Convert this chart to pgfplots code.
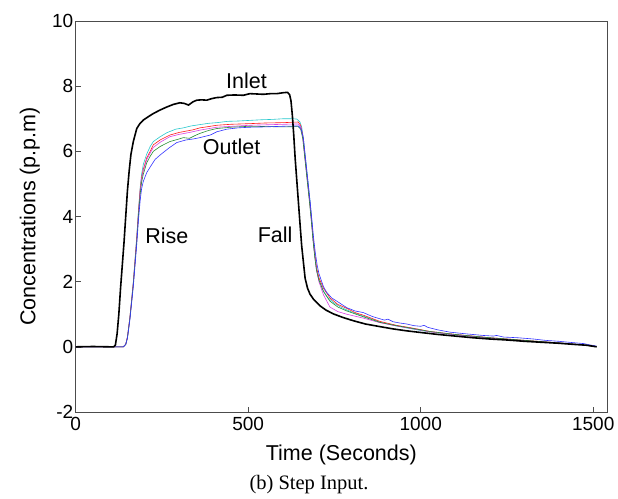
\documentclass[border=0pt]{standalone}
\usepackage{fontspec}
\setmainfont{Liberation Sans}
\newfontfamily\capfont{Liberation Serif}
\usepackage{pgfplots}
\pgfplotsset{compat=1.18}
\definecolor{mcyan}{rgb}{0.15,0.78,0.8}
\definecolor{mred}{rgb}{1,0.1,0.1}
\definecolor{mmag}{rgb}{0.85,0.25,0.9}
\definecolor{mgreen}{rgb}{0.15,0.55,0.2}
\definecolor{mblue}{rgb}{0.2,0.2,1}
\begin{document}
\begin{tikzpicture}
\begin{axis}[
  at={(75.7bp,87bp)}, anchor=south west,
  scale only axis, width=531.3bp, height=391bp,
  xmin=0, xmax=1540, ymin=-2, ymax=10,
  xtick={0,500,1000,1500}, ytick={-2,0,2,4,6,8,10},
  tick align=inside, major tick length=5bp,
  xtick pos=bottom, ytick pos=left,
  axis line style={black!70, line width=0.6bp},
  tick style={black!70, line width=0.6bp},
  /pgf/number format/assume math mode=true,
  /pgf/number format/1000 sep={},
  ticklabel style={font=\fontsize{19bp}{22bp}\selectfont},
  xticklabel style={yshift=-2bp},
  yticklabel style={xshift=1bp},
  every axis x label/.style={at={(rel axis cs:0.5,0)}, yshift=-43bp, anchor=center, font=\fontsize{21.5bp}{24bp}\selectfont},
  every axis y label/.style={at={(rel axis cs:0,0.5)}, xshift=-46bp, rotate=90, anchor=center, font=\fontsize{21.5bp}{24bp}\selectfont},
  xlabel={Time (Seconds)},
  ylabel={Concentrations (p.p.m)},
  clip=true,
]
% Outlets
\addplot[mcyan, line width=0.6bp] coordinates {(0,0) (100,0) (138,0) (145,0.08) (150,0.3) (157,0.9) (162,1.45) (167,2.0) (172,2.7) (177,3.4) (182,4.2) (187,4.9) (191,5.3) (196,5.6) (206,5.92) (216,6.15) (225,6.3) (245,6.45) (264,6.57) (290,6.68) (312,6.72) (335,6.78) (360,6.82) (385,6.86) (409,6.88) (440,6.92) (470,6.93) (505,6.95) (540,6.97) (570,6.98) (602,7.0) (630,7.0) (641,6.99) (650,6.9) (655,6.75) (660,6.4) (665,5.9) (670,5.4) (675,4.9) (680,4.4) (685,3.8) (689,3.2) (694,2.7) (698,2.35) (705,2.05) (718,1.72) (730,1.52) (747,1.36) (765,1.24) (786,1.13) (810,1.03) (834,0.94) (860,0.85) (882,0.76) (920,0.66) (960,0.58) (1000,0.5) (1050,0.43) (1100,0.37) (1150,0.32) (1200,0.27) (1250,0.23) (1300,0.19) (1350,0.15) (1400,0.12) (1450,0.08) (1480,0.05) (1510,0.01)};
\addplot[mred, line width=0.6bp] coordinates {(0,0) (100,0) (138,0) (145,0.08) (150,0.3) (157,0.9) (162,1.42) (167,1.97) (172,2.65) (177,3.35) (182,4.15) (187,4.85) (191,5.2) (196,5.45) (206,5.8) (216,6.0) (225,6.2) (245,6.35) (273,6.5) (300,6.58) (320,6.62) (340,6.66) (360,6.72) (385,6.76) (409,6.8) (450,6.83) (505,6.85) (550,6.87) (602,6.88) (645,6.9) (652,6.8) (658,6.5) (663,6.0) (668,5.5) (673,5.0) (678,4.5) (683,3.95) (688,3.35) (693,2.85) (698,2.45) (705,2.12) (718,1.8) (737,1.5) (760,1.3) (786,1.18) (810,1.05) (834,0.97) (882,0.78) (930,0.66) (979,0.57) (1027,0.47) (1100,0.38) (1200,0.28) (1300,0.2) (1400,0.12) (1460,0.07) (1510,0.01)};
\addplot[mmag, line width=0.6bp] coordinates {(0,0) (100,0) (138,0) (145,0.08) (150,0.3) (157,0.88) (162,1.4) (167,1.95) (172,2.6) (177,3.3) (182,4.1) (187,4.8) (191,5.15) (196,5.4) (206,5.75) (216,5.95) (225,6.12) (245,6.28) (273,6.45) (300,6.52) (330,6.58) (360,6.65) (409,6.74) (505,6.8) (602,6.83) (645,6.84) (652,6.75) (658,6.45) (663,5.95) (668,5.45) (673,4.95) (678,4.45) (683,3.9) (688,3.3) (693,2.8) (698,2.35) (705,2.0) (718,1.6) (737,1.22) (760,1.08) (786,1.0) (834,0.88) (882,0.74) (930,0.64) (979,0.55) (1027,0.46) (1100,0.37) (1200,0.27) (1300,0.19) (1400,0.12) (1460,0.07) (1510,0.01)};
\addplot[mgreen, line width=0.6bp] coordinates {(0,0) (100,0) (138,0) (145,0.07) (150,0.28) (157,0.86) (162,1.38) (167,1.92) (172,2.58) (177,3.25) (182,4.05) (187,4.7) (191,5.05) (196,5.3) (206,5.65) (216,5.85) (225,6.0) (245,6.15) (273,6.3) (300,6.38) (312,6.42) (330,6.4) (345,6.48) (360,6.55) (385,6.64) (409,6.7) (450,6.74) (505,6.77) (550,6.76) (602,6.75) (645,6.76) (652,6.68) (658,6.4) (663,5.9) (668,5.4) (673,4.9) (678,4.4) (683,3.85) (688,3.25) (693,2.75) (698,2.35) (705,2.05) (718,1.7) (737,1.4) (760,1.22) (786,1.1) (834,0.92) (882,0.75) (930,0.65) (979,0.56) (1027,0.47) (1100,0.38) (1200,0.28) (1300,0.2) (1400,0.12) (1460,0.07) (1510,0.01)};
\addplot[mblue, line width=0.6bp] coordinates {(0,0) (100,0) (138,0) (145,0.07) (150,0.26) (157,0.82) (162,1.33) (167,1.85) (172,2.5) (177,3.15) (182,3.9) (187,4.5) (191,4.85) (196,5.08) (206,5.35) (216,5.52) (230,5.75) (245,5.89) (270,6.1) (293,6.27) (320,6.35) (341,6.38) (360,6.42) (390,6.5) (409,6.6) (438,6.68) (470,6.72) (505,6.74) (550,6.75) (602,6.77) (645,6.78) (653,6.7) (660,6.4) (665,5.9) (670,5.4) (675,4.9) (680,4.4) (685,3.85) (690,3.3) (695,2.85) (700,2.5) (705,2.25) (718,1.85) (727,1.68) (742,1.5) (757,1.4) (786,1.2) (810,1.1) (834,1.05) (860,0.93) (882,0.86) (895,0.82) (905,0.85) (920,0.77) (940,0.73) (960,0.7) (980,0.65) (1000,0.63) (1010,0.66) (1020,0.6) (1050,0.52) (1085,0.45) (1130,0.4) (1180,0.35) (1211,0.33) (1220,0.35) (1240,0.3) (1280,0.28) (1327,0.24) (1360,0.2) (1400,0.17) (1430,0.14) (1472,0.1) (1490,0.06) (1510,0.02)};
% Inlet
\addplot[black, line width=1.6bp] coordinates {(0,0) (50,0.01) (100,0) (110,0) (115,0.05) (120,0.4) (125,1.0) (130,1.8) (135,2.5) (140,3.2) (145,4.0) (150,4.8) (155,5.4) (160,5.9) (167,6.3) (177,6.7) (186,6.85) (196,6.96) (210,7.06) (225,7.16) (245,7.27) (264,7.36) (283,7.44) (302,7.49) (315,7.47) (327,7.42) (340,7.52) (351,7.57) (365,7.58) (380,7.57) (395,7.62) (409,7.65) (425,7.66) (438,7.72) (460,7.73) (486,7.72) (505,7.77) (525,7.76) (544,7.75) (565,7.77) (583,7.77) (602,7.8) (614,7.81) (620,7.74) (624,7.55) (628,7.1) (632,6.5) (636,5.8) (643,4.8) (650,3.8) (655,3.1) (660,2.6) (665,2.1) (672,1.8) (679,1.62) (690,1.45) (708,1.26) (725,1.13) (747,1.01) (775,0.9) (805,0.8) (840,0.7) (882,0.62) (920,0.55) (960,0.49) (1000,0.44) (1050,0.38) (1100,0.33) (1150,0.28) (1200,0.24) (1250,0.21) (1300,0.17) (1350,0.14) (1400,0.11) (1450,0.07) (1480,0.05) (1510,0)};
\node[font=\fontsize{21.5bp}{24bp}\selectfont] at (axis cs:495,8.15) {Inlet};
\node[font=\fontsize{21.5bp}{24bp}\selectfont] at (axis cs:452,6.14) {Outlet};
\node[font=\fontsize{21.5bp}{24bp}\selectfont] at (axis cs:264,3.4) {Rise};
\node[font=\fontsize{21.5bp}{24bp}\selectfont] at (axis cs:578,3.45) {Fall};
\end{axis}
\node[font=\capfont\fontsize{20.5bp}{24bp}\selectfont] at (309bp,14bp) {(b) Step Input.};
\pgfresetboundingbox
\path[use as bounding box] (0,0) rectangle (618bp,499bp);
\end{tikzpicture}
\end{document}
